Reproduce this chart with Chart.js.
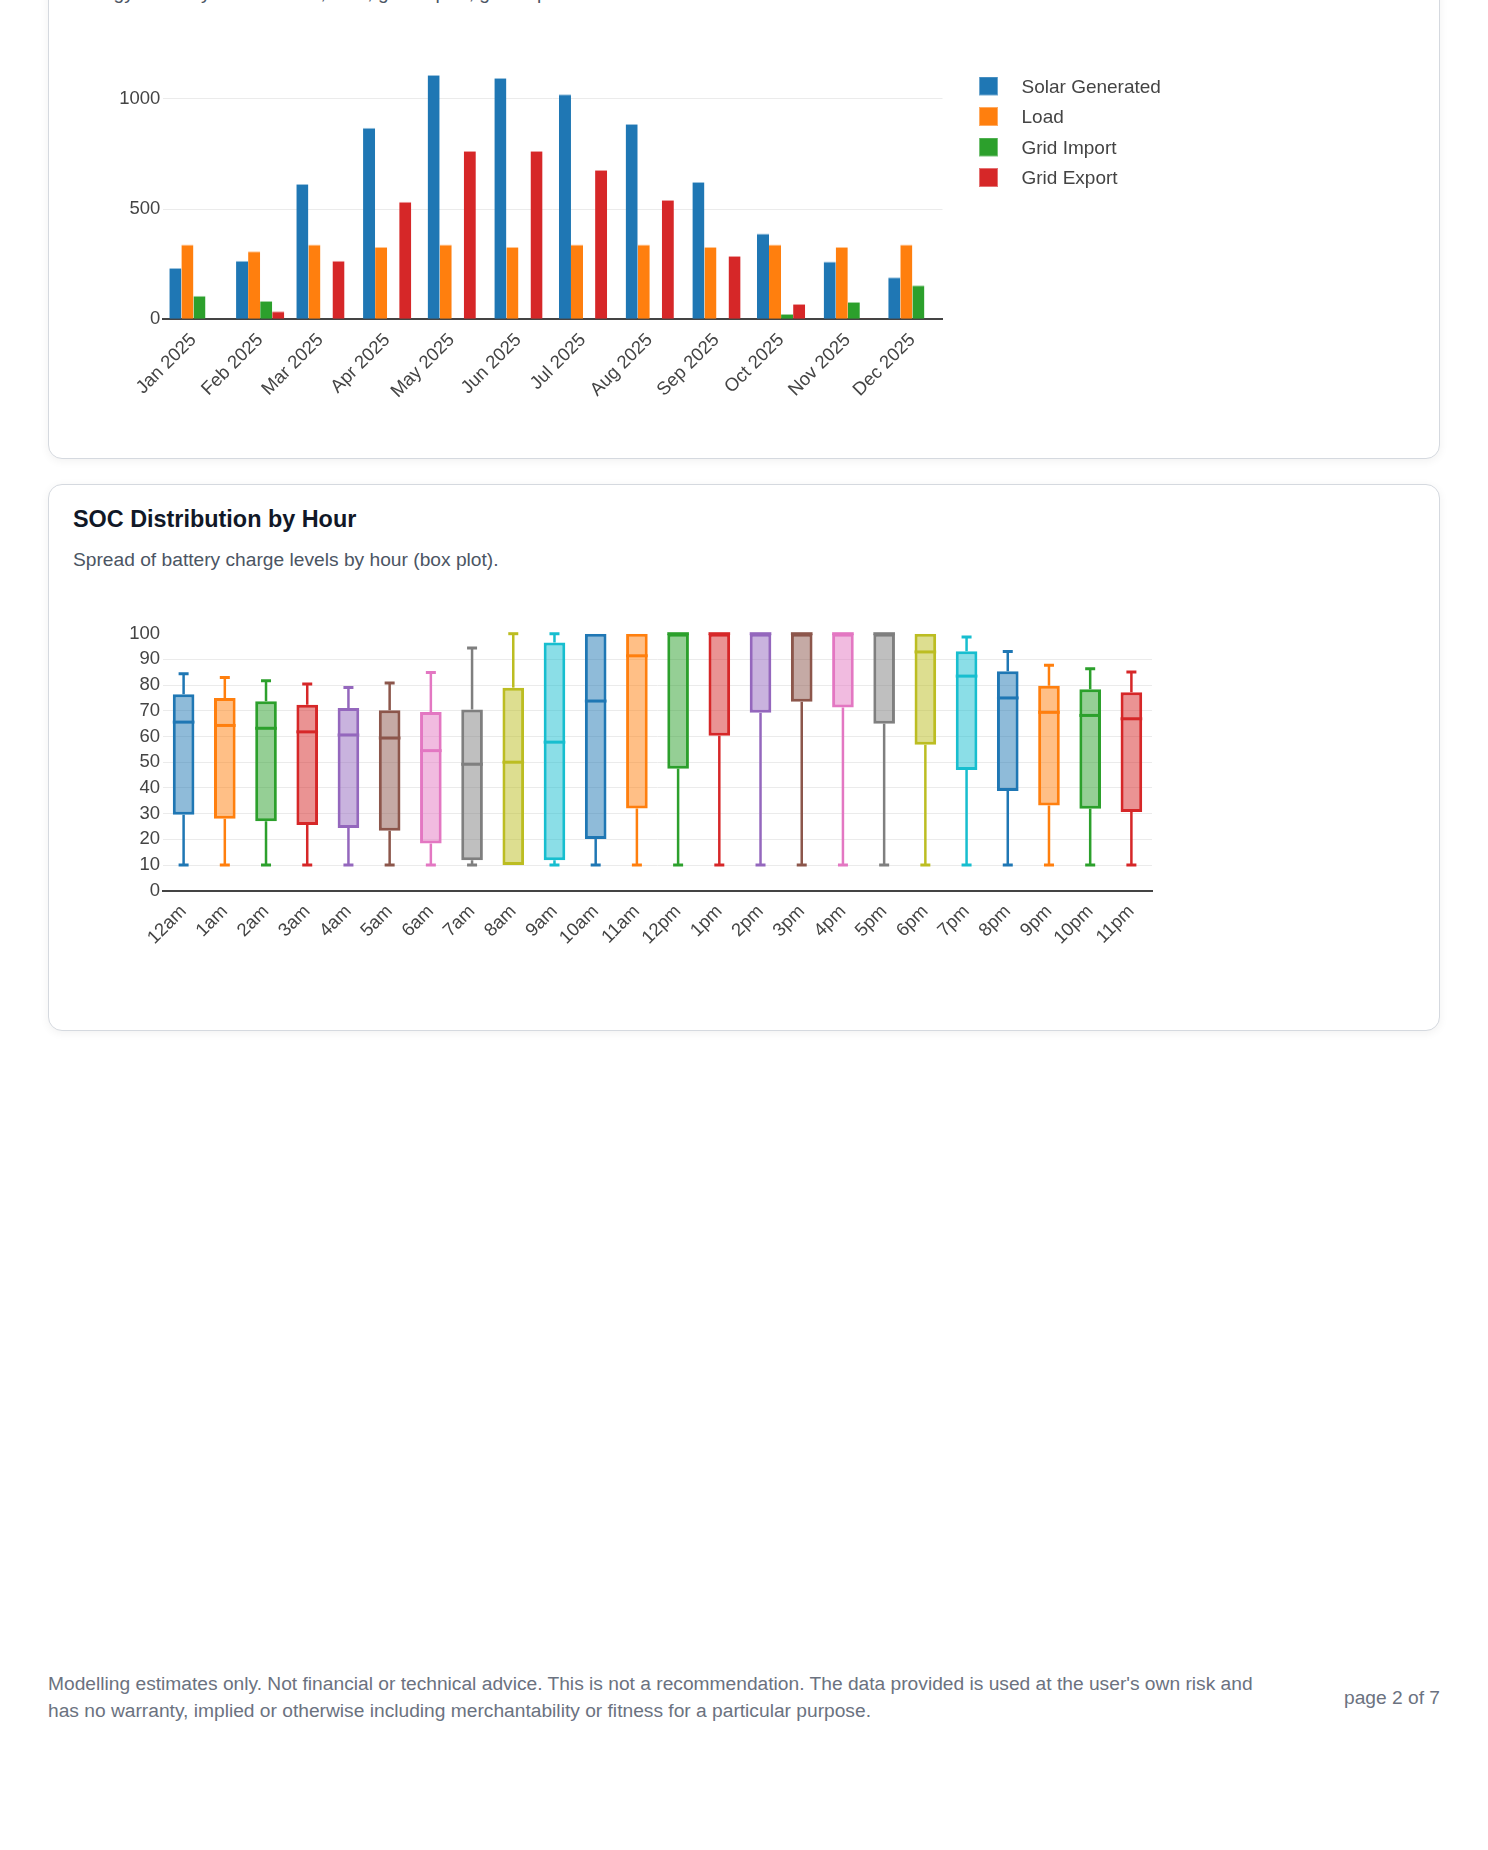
<!DOCTYPE html>
<html>
<head>
<meta charset="utf-8">
<title>Energy report - page 2</title>
<script src="https://cdn.jsdelivr.net/npm/chart.js@4.4.1/dist/chart.umd.min.js"></script>
<style>
  html, body { margin: 0; padding: 0; background: #fff; }
  body { width: 1488px; height: 1850px; position: relative; overflow: hidden;
         font-family: "Liberation Sans", Arial, Helvetica, sans-serif; }
  .card { position: absolute; left: 48px; width: 1392px; box-sizing: border-box;
          border: 1px solid #d5d9df; border-radius: 14px; background: #fff;
          box-shadow: 0 2px 10px rgba(0, 0, 0, 0.06); padding: 20px 24px; }
  .card h2 { margin: 0; font-size: 23.4px; line-height: 28px; font-weight: 700; color: #111827; }
  .card p { margin: 12.6px 0 0; font-size: 19.2px; line-height: 27px; color: #4b5563; }
  .chart { position: absolute; left: 24px; top: 106px; width: 1342px; }
  #energyCard { top: -83px; height: 542px; }
  #energyCard .chart { height: 413px; }
  #socCard { top: 484px; height: 547px; }
  #socCard .chart { height: 415px; }
  .footer { position: absolute; left: 48px; top: 1669.5px; width: 1225px;
            font-size: 19.2px; line-height: 27px; color: #6b7280; }
  .pageno { position: absolute; right: 48px; top: 1683.5px; font-size: 19.2px;
            line-height: 27px; color: #6b7280; }
</style>
</head>
<body>

<div class="card" id="energyCard">
  <h2>Monthly Energy Summary</h2>
  <p>Energy totals by month: solar, load, grid import, grid export.</p>
  <div class="chart"><canvas id="energyChart"></canvas></div>
</div>

<div class="card" id="socCard">
  <h2>SOC Distribution by Hour</h2>
  <p>Spread of battery charge levels by hour (box plot).</p>
  <div class="chart"><canvas id="socChart"></canvas></div>
</div>

<div class="footer">Modelling estimates only. Not financial or technical advice. This is not a recommendation. The data provided is used at the user's own risk and has no warranty, implied or otherwise including merchantability or fitness for a particular purpose.</div>
<div class="pageno">page 2 of 7</div>

<script>
// monthly energy (kWh); the x axis is a date axis, so months sit at their day of year
const months = ['Jan 2025', 'Feb 2025', 'Mar 2025', 'Apr 2025', 'May 2025', 'Jun 2025',
                'Jul 2025', 'Aug 2025', 'Sep 2025', 'Oct 2025', 'Nov 2025', 'Dec 2025'];
const monthStartDay = [0, 31, 59, 90, 120, 151, 181, 212, 243, 273, 304, 334];
const solarGenerated = [233, 266, 614, 870, 1109, 1095, 1021, 887, 623, 389, 262, 191];
const load           = [340, 309, 340, 328, 340, 328, 340, 340, 328, 340, 328, 340];
const gridImport     = [107, 83, 0, 0, 0, 0, 0, 0, 0, 24, 79, 154];
const gridExport     = [0, 36, 266, 534, 764, 764, 678, 542, 287, 70, 4, 0];
const energyTicks = [0, 500, 1000];

// SOC (%) by hour
const hours = ['12am', '1am', '2am', '3am', '4am', '5am', '6am', '7am', '8am', '9am', '10am', '11am',
               '12pm', '1pm', '2pm', '3pm', '4pm', '5pm', '6pm', '7pm', '8pm', '9pm', '10pm', '11pm'];
const socMin    = [10, 10, 10, 10, 10, 10, 10, 10, 10, 10, 10, 10, 10, 10, 10, 10, 10, 10, 10, 10, 10, 10, 10, 10];
const socQ1     = [29.6, 28.0, 27.0, 25.6, 24.4, 23.3, 18.4, 11.8, 10, 11.8, 20.1, 32.0,
                   47.5, 60.3, 69.2, 73.5, 71.3, 65.0, 56.8, 47.0, 38.8, 33.2, 31.9, 30.6];
const socMedian = [65.6, 64.3, 63.2, 61.8, 60.6, 59.4, 54.5, 49.2, 50.0, 57.8, 73.8, 91.4,
                   100, 100, 100, 100, 100, 100, 92.9, 83.5, 75.0, 69.4, 68.2, 66.9];
const socQ3     = [76.4, 75.0, 73.7, 72.4, 71.1, 70.2, 69.5, 70.5, 79.0, 96.6, 100, 100,
                   100, 100, 100, 100, 100, 100, 100, 93.2, 85.4, 79.7, 78.4, 77.2];
const socMax    = [84.4, 83.0, 81.7, 80.4, 79.1, 80.8, 84.9, 94.4, 100, 100, 100, 100,
                   100, 100, 100, 100, 100, 100, 100, 98.7, 93.1, 87.7, 86.4, 85.1];
const socTicks = [0, 10, 20, 30, 40, 50, 60, 70, 80, 90, 100];

const palette = ['#1f77b4', '#ff7f0e', '#2ca02c', '#d62728', '#9467bd',
                 '#8c564b', '#e377c2', '#7f7f7f', '#bcbd22', '#17becf'];

const FONT = "'Liberation Sans', Arial, Helvetica, sans-serif";
Chart.defaults.font.family = FONT;
Chart.defaults.font.size = 18.5;
Chart.defaults.color = '#444';
Chart.defaults.animation = false;

function hexA(hex, a) {
  const n = parseInt(hex.slice(1), 16);
  return `rgba(${n >> 16}, ${(n >> 8) & 255}, ${n & 255}, ${a})`;
}

// legend swatch: square with some room on the left
const SW_W = 58, SW_H = 22, SW_OFF = 25, SW_SIZE = 19;
function swatch(color) {
  const c = document.createElement('canvas');
  c.width = SW_W; c.height = SW_H;
  const g = c.getContext('2d');
  g.fillStyle = color;
  g.fillRect(SW_OFF, 0, SW_SIZE, SW_SIZE);
  g.strokeStyle = 'rgba(255,255,255,0.35)';
  g.lineWidth = 1;
  g.strokeRect(SW_OFF + 0.5, 0.5, SW_SIZE - 1, SW_SIZE - 1);
  return c;
}

// ---------- energy bar chart ----------
const energySeries = [
  { label: 'Solar Generated', data: solarGenerated, color: palette[0] },
  { label: 'Load', data: load, color: palette[1] },
  { label: 'Grid Import', data: gridImport, color: palette[2] },
  { label: 'Grid Export', data: gridExport, color: palette[3] }
];
const swatches = energySeries.map(s => swatch(s.color));

// legend sits right after the plot area
const LEGEND_FONT = 19;
const measure = document.createElement('canvas').getContext('2d');
measure.font = `normal ${LEGEND_FONT}px ${FONT}`;
const maxText = Math.max(...energySeries.map(s => measure.measureText(s.label).width));
const legendPad = 11.5;
const legendWidth = legendPad + SW_W + LEGEND_FONT / 2 + maxText + 10;
const energyPlotRight = 869.5;

new Chart(document.getElementById('energyChart'), {
  type: 'bar',
  data: {
    datasets: energySeries.map(s => ({
      label: s.label,
      data: s.data.map((v, i) => ({ x: monthStartDay[i], y: v })),
      backgroundColor: s.color,
      borderColor: hexA(s.color, 0.45),
      borderWidth: { top: 1, left: 0, right: 0, bottom: 0 },
      borderSkipped: 'start',
      categoryPercentage: 0.8,
      barPercentage: 1.0
    }))
  },
  options: {
    responsive: true,
    maintainAspectRatio: false,
    layout: { padding: { top: 42.5, left: 0, bottom: 17.7, right: 1342 - energyPlotRight - legendWidth } },
    plugins: {
      tooltip: { enabled: false },
      legend: {
        position: 'right',
        align: 'start',
        labels: {
          usePointStyle: true,
          pointStyleWidth: SW_W,
          padding: legendPad,
          color: '#444',
          font: { size: LEGEND_FONT },
          generateLabels: (chart) => {
            const items = Chart.defaults.plugins.legend.labels.generateLabels(chart);
            items.forEach((it, i) => { it.pointStyle = swatches[i]; });
            return items;
          }
        }
      }
    },
    scales: {
      x: {
        type: 'linear',
        offset: false,
        min: monthStartDay[0] - 14,
        max: monthStartDay[monthStartDay.length - 1] + 14,
        afterBuildTicks: (s) => { s.ticks = monthStartDay.map(v => ({ value: v })); },
        grid: { display: false },
        border: { display: true, color: '#444', width: 2 },
        ticks: { minRotation: 45, maxRotation: 45, autoSkip: false, padding: 2,
                 callback: (v, i) => months[i] },
        afterFit: (s) => { s.height = 100; }
      },
      y: {
        min: 0,
        max: 1147.5,
        afterBuildTicks: (s) => { s.ticks = energyTicks.map(v => ({ value: v })); },
        grid: { drawTicks: false, color: (c) => c.tick && c.tick.value === 0 ? 'rgba(0,0,0,0)' : '#ebebeb', lineWidth: 1 },
        border: { display: false },
        ticks: { padding: 3, callback: (v) => String(v) },
        afterFit: (s) => { s.width = 90.3; }
      }
    }
  }
});

// ---------- SOC box plot ----------
const boxPlot = {
  id: 'boxPlot',
  afterDatasetsDraw(chart) {
    const { ctx, scales: { y } } = chart;
    const meta = chart.getDatasetMeta(0);
    ctx.save();
    ctx.lineCap = 'butt';
    meta.data.forEach((bar, i) => {
      const color = palette[i % palette.length];
      const x = bar.x;
      const half = bar.width / 2;
      const yMin = y.getPixelForValue(socMin[i]);
      const yQ1 = y.getPixelForValue(socQ1[i]);
      const yMed = y.getPixelForValue(socMedian[i]);
      const yQ3 = y.getPixelForValue(socQ3[i]);
      const yMax = y.getPixelForValue(socMax[i]);
      ctx.strokeStyle = color;
      // whiskers + caps
      ctx.lineWidth = 2.5;
      ctx.beginPath();
      if (socMax[i] > socQ3[i]) { ctx.moveTo(x, yQ3); ctx.lineTo(x, yMax); }
      if (socMin[i] < socQ1[i]) { ctx.moveTo(x, yQ1); ctx.lineTo(x, yMin); }
      ctx.stroke();
      ctx.lineWidth = 3;
      ctx.beginPath();
      if (socMax[i] > socQ3[i]) { ctx.moveTo(x - 5, yMax); ctx.lineTo(x + 5, yMax); }
      if (socMin[i] < socQ1[i]) { ctx.moveTo(x - 5, yMin); ctx.lineTo(x + 5, yMin); }
      ctx.stroke();
      // median
      ctx.beginPath();
      ctx.moveTo(x - half, yMed);
      ctx.lineTo(x + half, yMed);
      ctx.stroke();
    });
    ctx.restore();
  }
};

new Chart(document.getElementById('socChart'), {
  type: 'bar',
  data: {
    labels: hours,
    datasets: [{
      label: 'SOC',
      data: hours.map((h, i) => [socQ1[i], socQ3[i]]),
      backgroundColor: hours.map((h, i) => hexA(palette[i % palette.length], 0.5)),
      borderColor: hours.map((h, i) => palette[i % palette.length]),
      borderWidth: 3,
      borderSkipped: false,
      categoryPercentage: 0.525,
      barPercentage: 1.0
    }]
  },
  options: {
    responsive: true,
    maintainAspectRatio: false,
    layout: { padding: { top: 42.7, left: 0, bottom: 15.3, right: 263 } },
    plugins: { legend: { display: false }, tooltip: { enabled: false } },
    scales: {
      x: {
        grid: { display: false },
        border: { display: true, color: '#444', width: 2 },
        ticks: { minRotation: 45, maxRotation: 45, autoSkip: false, padding: 2 },
        afterFit: (s) => { s.height = 100; }
      },
      y: {
        min: 0,
        max: 100,
        afterBuildTicks: (s) => { s.ticks = socTicks.map(v => ({ value: v })); },
        grid: { drawTicks: false, color: (c) => c.tick && (c.tick.value === 0 || c.tick.value === 100) ? 'rgba(0,0,0,0)' : '#ebebeb', lineWidth: 1 },
        border: { display: false },
        ticks: { padding: 3 },
        afterFit: (s) => { s.width = 90; }
      }
    }
  },
  plugins: [boxPlot]
});
</script>
</body>
</html>
